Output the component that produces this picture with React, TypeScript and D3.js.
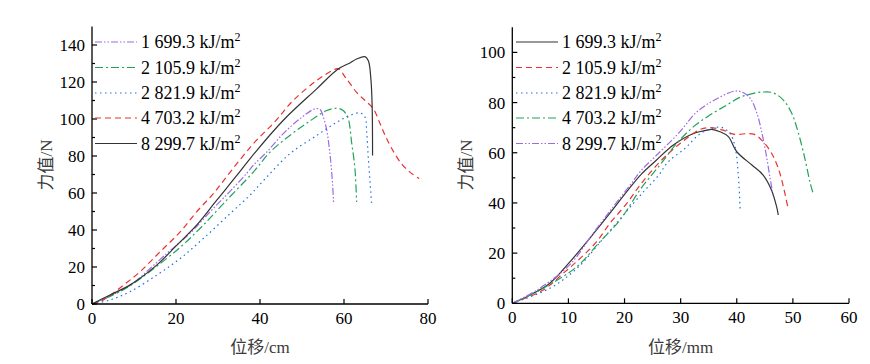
import React from 'react';
import * as d3 from 'd3';

type Pt = [number, number];

// legend labels (same energies in both panels, different styles)
const energies = ['1 699.3', '2 105.9', '2 821.9', '4 703.2', '8 299.7'];

// left panel, displacement in cm
const leftXTicks = [0, 20, 40, 60, 80];
const leftYTicks = [0, 20, 40, 60, 80, 100, 120, 140];
const left1699: Pt[] = [[0, 0], [4.5, 4.5], [9, 10], [17.8, 27.3], [23.3, 38.1], [28.1, 49.8], [32.9, 61], [36.8, 70.5], [38.4, 75], [41.6, 82.1], [45.5, 92], [49.5, 100.1], [53.1, 105.5], [54.3, 105.1], [55.2, 100.1], [55.9, 93.8], [56.7, 80.3], [57.3, 64.2], [57.5, 55.1]];
const left2105: Pt[] = [[0, 0], [4.5, 4.4], [9, 9.8], [20.2, 29.1], [25.7, 40.8], [31.3, 54.3], [38.4, 71.3], [42.4, 82.1], [47.1, 91.1], [51.5, 98.3], [55.9, 104.6], [58.4, 105.8], [59.8, 104.6], [61, 100.1], [61.8, 87.5], [62.6, 73.2], [63, 55.1]];
const left2821: Pt[] = [[0, 0], [4.3, 2.2], [9, 6.6], [15.4, 15.6], [21, 24.6], [26.5, 35.4], [32.9, 48.9], [37.6, 58.8], [41.6, 68.6], [47.1, 81.2], [53.5, 91.1], [58.3, 98.3], [61.4, 101.9], [63.8, 103.3], [65, 101], [65.4, 92.9], [65.8, 78.5], [66.6, 53.4]];
const left4703: Pt[] = [[0, 0], [2.7, 2.2], [7.5, 10.2], [11.4, 17.4], [16.2, 28.2], [21, 39], [24.9, 49.8], [28.9, 59.7], [32.9, 71.3], [38.4, 86.6], [43.6, 98.7], [47.9, 110], [53.5, 120.8], [57.5, 126.5], [58.6, 127.2], [60.6, 121.7], [63, 114.4], [65, 110], [67, 105.5], [68.6, 97.4], [69.8, 91.1], [71.4, 83.9], [73.7, 75.8], [75.7, 71.3], [77.9, 67.8]];
const left8299: Pt[] = [[0, 0], [4.3, 4.9], [9, 10.2], [15.4, 21], [20.2, 31.8], [24.9, 42.6], [29.7, 56.1], [35.2, 71.5], [37.6, 78.5], [45.5, 99.2], [53.5, 116.3], [58.6, 127], [61.4, 130.3], [63, 132.4], [65, 133.7], [65.8, 131.5], [66.4, 121.7], [66.7, 107.3], [66.8, 80.3]];

// right panel, displacement in mm
const rightXTicks = [0, 10, 20, 30, 40, 50, 60];
const rightYTicks = [0, 20, 40, 60, 80, 100];
const right1699: Pt[] = [[0, 0], [3.2, 3.3], [6.7, 8], [10.3, 16.6], [13.8, 25.9], [17.4, 35.9], [20.4, 44.5], [23, 51.5], [25.7, 57.1], [28.7, 63.1], [32.3, 67.7], [34.7, 69], [35.5, 69.3], [37, 68.4], [38.5, 66.4], [40, 60.4], [42.7, 55.1], [44.7, 51.1], [46.2, 45.1], [47.1, 38.5], [47.4, 35.2]];
const right2105: Pt[] = [[0, 0], [5.5, 5.3], [9.1, 12], [12.1, 17.9], [15, 24.5], [17.4, 31.9], [20.4, 39.8], [23, 47.8], [26.3, 56.4], [29.9, 63.7], [33.5, 69.3], [35.2, 70], [37.6, 69], [39.4, 67.4], [43, 67.4], [44.7, 64.4], [46.2, 59.8], [47.4, 53.8], [48.3, 46.5], [49.2, 37.2]];
const right2821: Pt[] = [[0, 0], [6.7, 6], [11.5, 13.9], [16.2, 25.8], [19.8, 35.2], [23.4, 44.5], [26, 50.8], [27.8, 56.4], [30.8, 61.8], [33.2, 67.1], [35.5, 69.7], [37.3, 70.1], [38.8, 67.7], [39.7, 62.4], [40.3, 50.4], [40.6, 37.2]];
const right4703: Pt[] = [[0, 0], [5.5, 6], [11.5, 14.6], [15.6, 24.5], [19.2, 33.2], [23, 46], [26.3, 55.1], [29.3, 63.7], [32.3, 70.4], [35.2, 75], [38.2, 79], [40.6, 82.1], [43, 83.7], [44.7, 84.2], [46.5, 83.9], [48.3, 81], [49.8, 75.7], [51, 67.7], [52.2, 57.1], [53.1, 47.8], [53.7, 43.1]];
const right8299: Pt[] = [[0, 0], [4.9, 6], [10.3, 15.5], [14.4, 27.9], [18, 38.5], [21, 47.1], [22.8, 52.5], [25.7, 59], [29.6, 67.7], [32.9, 76.3], [35.8, 80.7], [39.7, 84.6], [41.2, 83.9], [42.4, 81.7], [43.6, 75.7], [44.5, 67.7], [45.2, 59.8], [45.9, 50.4], [46.5, 42.5]];

const STY = {
  purple: { color: '#9f6ae6', dash: '7,2,1.5,2,1.5,2' },
  green: { color: '#22a35a', dash: '8,3,2,3' },
  blue: { color: '#1f6fe0', dash: '1.5,3.5' },
  red: { color: '#ec3030', dash: '6,4' },
  black: { color: '#333333', dash: '' },
};

const FONT = '"Liberation Serif", "Times New Roman", serif';
const CJK = '"Liberation Serif", "Noto Sans CJK SC", serif';

type Series = { data: Pt[]; style: { color: string; dash: string } };

const Panel = ({ x0, x1, y0, y1, xMax, yMax, xTicks, yTicks, series, xTitle, legendX, titleX }: any) => {
  const x = d3.scaleLinear().domain([0, xMax]).range([x0, x1]);
  const y = d3.scaleLinear().domain([0, yMax]).range([y0, y1]);
  const line = d3.line<Pt>().x((d) => x(d[0])).y((d) => y(d[1])).curve(d3.curveCatmullRom.alpha(0.5));
  const minor = d3.range(10, yMax, 20).filter((v) => !yTicks.includes(v));
  const legY = [42, 67.5, 93, 118, 143.5];

  return (
    <g>
      {series.map((s: Series, i: number) => (
        <path key={i} d={line(s.data) || ''} fill="none" stroke={s.style.color} strokeWidth={1.2} strokeDasharray={s.style.dash} />
      ))}
      <line x1={x0} x2={x1} y1={y0} y2={y0} stroke="#000" strokeWidth={1.3} />
      <line x1={x0} x2={x0} y1={y0} y2={y1} stroke="#000" strokeWidth={1.3} />
      {xTicks.map((t: number) => (
        <g key={'x' + t}>
          <line x1={x(t)} x2={x(t)} y1={y0} y2={y0 - 5} stroke="#000" strokeWidth={1.2} />
          <text x={x(t)} y={y0 + 20} textAnchor="middle" fontFamily={FONT} fontSize={17}>{t}</text>
        </g>
      ))}
      {yTicks.map((t: number) => (
        <g key={'y' + t}>
          <line x1={x0} x2={x0 + 5} y1={y(t)} y2={y(t)} stroke="#000" strokeWidth={1.2} />
          <text x={x0 - 7} y={y(t) + 6} textAnchor="end" fontFamily={FONT} fontSize={17}>{t}</text>
        </g>
      ))}
      {minor.map((t: number) => (
        <line key={'m' + t} x1={x0} x2={x0 + 3} y1={y(t)} y2={y(t)} stroke="#000" strokeWidth={1.2} />
      ))}
      {series.map((s: Series, i: number) => (
        <g key={'l' + i}>
          <line x1={legendX} x2={legendX + 42} y1={legY[i]} y2={legY[i]} stroke={s.style.color} strokeWidth={1.2} strokeDasharray={s.style.dash} />
          <text x={legendX + 46} y={legY[i] + 6} fontFamily={FONT} fontSize={18}>
            {energies[i]} kJ/m<tspan dy={-7} fontSize={12}>2</tspan>
          </text>
        </g>
      ))}
      <text x={(x0 + x1) / 2} y={353} textAnchor="middle" fontFamily={CJK} fontSize={17} fill="#3a3a3a">{xTitle}</text>
      <text transform={`translate(${titleX},165) rotate(-90)`} textAnchor="middle" fontFamily={CJK} fontSize={17} fill="#3a3a3a">力值/N</text>
    </g>
  );
};

export default function App() {
  const leftSeries: Series[] = [
    { data: left1699, style: STY.purple },
    { data: left2105, style: STY.green },
    { data: left2821, style: STY.blue },
    { data: left4703, style: STY.red },
    { data: left8299, style: STY.black },
  ];
  const rightSeries: Series[] = [
    { data: right1699, style: STY.black },
    { data: right2105, style: STY.red },
    { data: right2821, style: STY.blue },
    { data: right4703, style: STY.green },
    { data: right8299, style: STY.purple },
  ];
  return (
    <svg width={870} height={364} style={{ position: 'absolute', left: 0, top: 0, background: '#fff' }}>
      <rect width={870} height={364} fill="#fff" />
      <Panel x0={92} x1={428} y0={304} y1={26.5} xMax={80} yMax={150} xTicks={leftXTicks} yTicks={leftYTicks}
        series={leftSeries} xTitle="位移/cm" legendX={95} titleX={52} />
      <Panel x0={512.3} x1={849} y0={303.3} y1={27.3} xMax={60} yMax={110} xTicks={rightXTicks} yTicks={rightYTicks}
        series={rightSeries} xTitle="位移/mm" legendX={516} titleX={472} />
    </svg>
  );
}
